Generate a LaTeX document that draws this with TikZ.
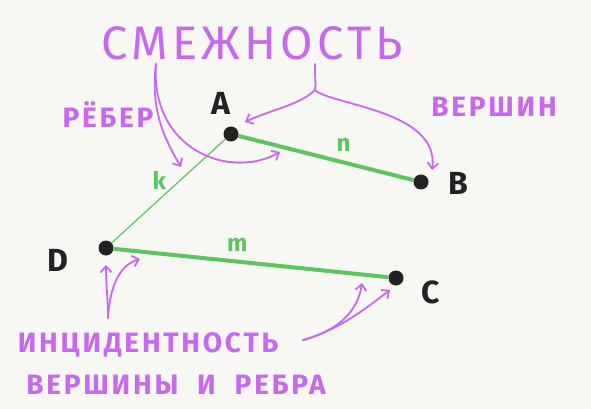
\documentclass[tikz,border=0pt]{standalone}
\usepackage{fontspec}
\setmainfont{Fira Sans}
\usetikzlibrary{arrows.meta}
\definecolor{lilac}{HTML}{C868F0}
\definecolor{grass}{HTML}{5EC45E}
\definecolor{paper}{HTML}{F7F7F4}
\definecolor{ink}{HTML}{222222}

\begin{document}
\begin{tikzpicture}[x=1pt,y=-1pt,
    vertex/.style={circle,fill=ink,inner sep=0pt,minimum size=15pt},
    vname/.style={text=ink,font=\fontsize{32}{32}\selectfont\bfseries},
    ename/.style={text=grass,font=\fontsize{24}{24}\selectfont\bfseries},
    note/.style={text=lilac,font=\fontsize{28}{28}\selectfont\bfseries\addfontfeature{LetterSpace=10}},
    pointer/.style={draw=lilac,line width=1.8pt,line cap=round,-{Straight Barb[length=6pt,width=11pt]}}]

  \useasboundingbox[fill=paper] (0,0) rectangle (591,409);

  \begin{scope}[every node/.style={vertex}]
    \node (A) at (231,134) {};
    \node (B) at (421,182) {};
    \node (C) at (396,278) {};
    \node (D) at (106,248) {};
  \end{scope}

  \begin{scope}[every node/.style={vname}]
    \node (la) at (221,103) {A};
    \node (lb) at (458,183) {B};
    \node (lc) at (431,292) {C};
    \node (ld) at (58,260) {D};
  \end{scope}

  \begin{scope}[every node/.style={ename}]
    \path (D) edge[draw=grass,line width=1.2pt] node[pos=0.6,left=10pt] {k} (A);
    \path (A) edge[draw=grass,line width=4pt] node[pos=0.6,above=6pt] {n} (B);
    \path (D) edge[draw=grass,line width=4pt] node[pos=0.45,above=5pt] {m} (C);
  \end{scope}

  \node[note,font=\fontsize{47}{47}\selectfont\addfontfeature{LetterSpace=9}] (adj) at (252,43) {СМЕЖНОСТЬ};
  \node[note] (edg) at (108,115) {РЁБЕР};
  \node[note] (ver) at (494,107) {ВЕРШИН};
  \node[note] (inc) at (148,345) {ИНЦИДЕНТНОСТЬ};
  \node[note] (ivr) at (176,385) {ВЕРШИНЫ~~И~~РЕБРА};

  \coordinate (s1) at (156,64);
  \coordinate (s2) at (315,64);
  \coordinate (f2) at (315,90);
  \coordinate (f4) at (108,318);
  \coordinate (f5) at (303,340);

  \draw[pointer] (s1) .. controls (150,110) and (165,140) .. (181,167);
  \draw[pointer] (s1) .. controls (150,150) and (230,180) .. (280,152);
  \draw[pointer] (s2) .. controls (315,80) and (316,86) .. (f2) .. controls (300,105) and (270,110) .. (245,122);
  \draw[pointer] (f2) .. controls (330,105) and (440,110) .. (432,170);
  \draw[pointer] (f4) .. controls (108,300) and (106,285) .. (106,265);
  \draw[pointer] (f4) .. controls (110,285) and (120,265) .. (140,259);
  \draw[pointer] (f5) .. controls (340,330) and (358,310) .. (362,283);
  \draw[pointer] (f5) .. controls (340,330) and (370,305) .. (390,290);
\end{tikzpicture}
\end{document}
